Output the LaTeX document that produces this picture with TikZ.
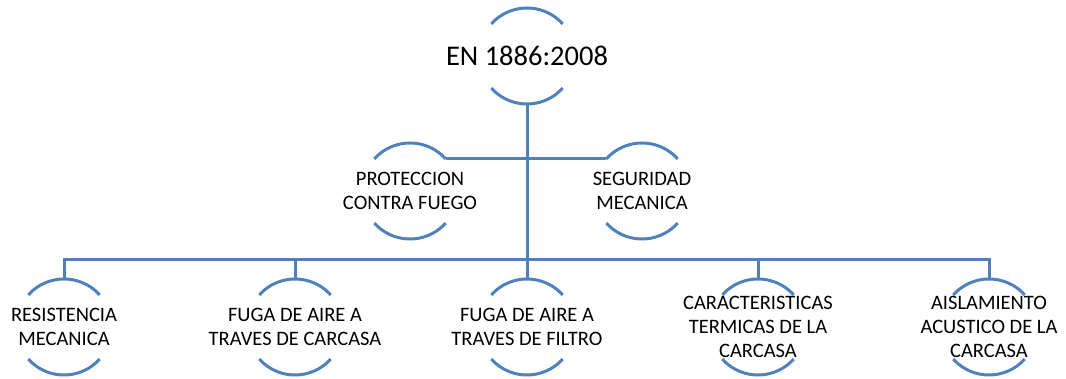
\documentclass[tikz,border=0pt]{standalone}
\usepackage{fontspec}
\setmainfont{Carlito}
\definecolor{arcblue}{RGB}{79,129,189}
\begin{document}
\begin{tikzpicture}[x=1pt, y=1pt,
    ring/.style={circle, minimum size=96pt, inner sep=0pt, outer sep=0pt},
    lbl/.style={align=center, font=\fontsize{20.5}{24}\selectfont, inner sep=0pt},
    arcline/.style={draw=arcblue, line width=3pt},
    link/.style={draw=arcblue, line width=3pt}]
      \useasboundingbox (0,0) rectangle (1066,379);

      % Nodes
      \node[ring, label={[lbl, font=\fontsize{28.5}{32}\selectfont]center:EN 1886:2008}] (std) at (527,323) {};
      \node[ring, label={[lbl]center:{PROTECCION\\CONTRA FUEGO}}] (prot) at (410,188) {};
      \node[ring, label={[lbl]center:{SEGURIDAD\\MECANICA}}] (seg) at (642,188) {};
      \node[ring, label={[lbl]center:{RESISTENCIA\\MECANICA}}] (res) at (64,52) {};
      \node[ring, label={[lbl]center:{FUGA DE AIRE A\\TRAVES DE CARCASA}}] (fugacar) at (295,52) {};
      \node[ring, label={[lbl]center:{FUGA DE AIRE A\\TRAVES DE FILTRO}}] (fugafil) at (527,52) {};
      \node[ring, label={[lbl]center:{CARACTERISTICAS\\TERMICAS DE LA\\CARCASA}}] (term) at (758,52) {};
      \node[ring, label={[lbl]center:{AISLAMIENTO\\ACUSTICO DE LA\\CARCASA}}] (aisl) at (989,52) {};

      % Arcs
      \foreach \n in {std,prot,seg,res,fugacar,fugafil,term,aisl} {
        \draw[arcline] (\n.42) arc[start angle=42, end angle=138, radius=48];
        \draw[arcline] (\n.222) arc[start angle=222, end angle=318, radius=48];
      }

      % Connectors
      \coordinate (bus) at (527,119);
      \draw[link] (std.south) -- (bus);
      \draw[link] (res.north) |- (bus) -| (aisl.north);
      \foreach \n in {fugacar,fugafil,term}
        \draw[link] (\n.north) -- (\n.north |- bus);
      \draw[link] (prot.42) -- (prot.42 -| bus);
      \draw[link] (seg.138) -- (seg.138 -| bus);
    \end{tikzpicture}
\end{document}
